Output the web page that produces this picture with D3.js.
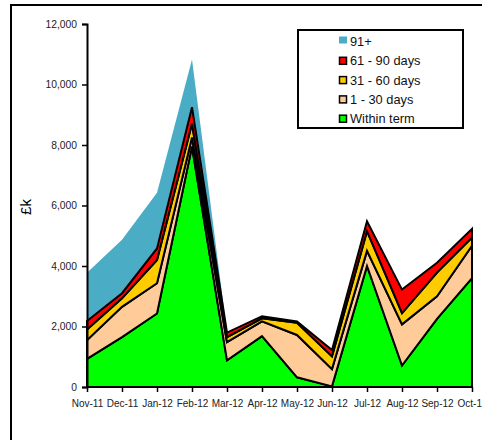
<!DOCTYPE html>
<html>
<head>
<meta charset="utf-8">
<script src="https://cdn.jsdelivr.net/npm/d3@7"></script>
<style>
  html, body { margin: 0; padding: 0; background: #fff; }
  svg { display: block; font-family: "Liberation Sans", Arial, sans-serif; }
</style>
</head>
<body>
<svg id="chart" width="482" height="440"></svg>
<script>
// Months on the x axis
const months = ["Nov-11", "Dec-11", "Jan-12", "Feb-12", "Mar-12", "Apr-12",
                "May-12", "Jun-12", "Jul-12", "Aug-12", "Sep-12", "Oct-12"];

// Debt by age band, £k
const withinTerm = [930, 1650, 2430, 7950, 880, 1680, 320, 20, 4000, 710, 2250, 3600];
const days1to30  = [620, 1000, 1000, 300, 600, 490, 1400, 570, 500, 1360, 750, 1070];
const days31to60 = [350, 280, 770, 450, 170, 100, 400, 420, 650, 370, 780, 270];
const days61to90 = [280, 170, 380, 550, 150, 70, 50, 210, 330, 780, 330, 290];
const days91plus = [1600, 1770, 1840, 1580, 0, 0, 0, 0, 0, 0, 0, 0];

const yTicks = [0, 2000, 4000, 6000, 8000, 10000, 12000];

const series = [
  { key: "within", label: "Within term",  values: withinTerm, color: "#00ff00", outline: true },
  { key: "d1",     label: "1 - 30 days",  values: days1to30,  color: "#ffcc99", outline: true },
  { key: "d31",    label: "31 - 60 days", values: days31to60, color: "#ffcc00", outline: true },
  { key: "d61",    label: "61 - 90 days", values: days61to90, color: "#ff0000", outline: true },
  { key: "d91",    label: "91+",          values: days91plus, color: "#4bacc6", outline: false }
];

const rows = months.map((m, i) => {
  const r = { month: m };
  series.forEach(s => { r[s.key] = s.values[i]; });
  return r;
});

const svg = d3.select("#chart");

// Outer frame of the chart object
svg.append("rect")
  .attr("x", 11).attr("y", 5)
  .attr("width", 500).attr("height", 460)
  .attr("fill", "none").attr("stroke", "#000").attr("stroke-width", 2);

const x = d3.scalePoint().domain(months).range([87, 472]);
const y = d3.scaleLinear().domain([0, 12000]).range([387, 24]);

const stacked = d3.stack().keys(series.map(s => s.key))(rows);

const area = d3.area()
  .x(d => x(d.data.month))
  .y0(d => y(d[0]))
  .y1(d => y(d[1]))
  .curve(d3.curveLinear);

// Draw the unoutlined top band first, then the outlined bands above it
const order = [4, 0, 1, 2, 3];
order.forEach(i => {
  const s = series[i];
  svg.append("path")
    .datum(stacked[i])
    .attr("d", area)
    .attr("fill", s.color)
    .attr("stroke", s.outline ? "#000" : "none")
    .attr("stroke-width", s.outline ? 2 : 0)
    .attr("stroke-linejoin", "miter");
});

// Y axis
const yAxis = svg.append("g")
  .attr("transform", "translate(87,0)")
  .call(d3.axisLeft(y).tickValues(yTicks).tickFormat(d3.format(",")).tickSize(5).tickPadding(5));
yAxis.select(".domain").attr("stroke", "#000").attr("stroke-width", 2);
yAxis.selectAll(".tick line").attr("stroke", "#000").attr("stroke-width", 1.5);
yAxis.selectAll(".tick text")
  .attr("fill", "#222").style("font-size", "10.3px")
  .style("font-family", "'Liberation Sans', Arial, sans-serif");

// X axis
const xAxis = svg.append("g")
  .attr("transform", "translate(0,387)")
  .call(d3.axisBottom(x).tickSize(5).tickSizeOuter(0).tickPadding(8));
xAxis.select(".domain").attr("stroke", "#000").attr("stroke-width", 2)
  .attr("d", "M87,0H472");
xAxis.selectAll(".tick line").attr("stroke", "#000").attr("stroke-width", 1.5);
xAxis.selectAll(".tick text")
  .attr("fill", "#222").style("font-size", "10px")
  .style("font-family", "'Liberation Sans', Arial, sans-serif");

// Y axis title
svg.append("text")
  .attr("transform", "translate(31,207) rotate(-90)")
  .attr("text-anchor", "middle")
  .style("font-size", "15px")
  .attr("fill", "#000")
  .text("£k");

// Legend
const lg = svg.append("g");
lg.append("rect")
  .attr("x", 298).attr("y", 30).attr("width", 165).attr("height", 98)
  .attr("fill", "#fff").attr("stroke", "#000").attr("stroke-width", 2);

const legendItems = [4, 3, 2, 1, 0].map(i => series[i]);
legendItems.forEach((s, j) => {
  const cy = 41.5 + j * 19.3;
  if (s.outline) {
    lg.append("rect")
      .attr("x", 339.5).attr("y", cy - 3.5).attr("width", 7).attr("height", 7)
      .attr("fill", s.color).attr("stroke", "#000").attr("stroke-width", 1.5);
  } else {
    lg.append("rect")
      .attr("x", 339).attr("y", cy - 5).attr("width", 8).attr("height", 7)
      .attr("fill", s.color);
  }
  lg.append("text")
    .attr("x", 350).attr("y", cy + 4.5)
    .style("font-size", "12.8px")
    .attr("fill", "#111")
    .text(s.label);
});
</script>
</body>
</html>
